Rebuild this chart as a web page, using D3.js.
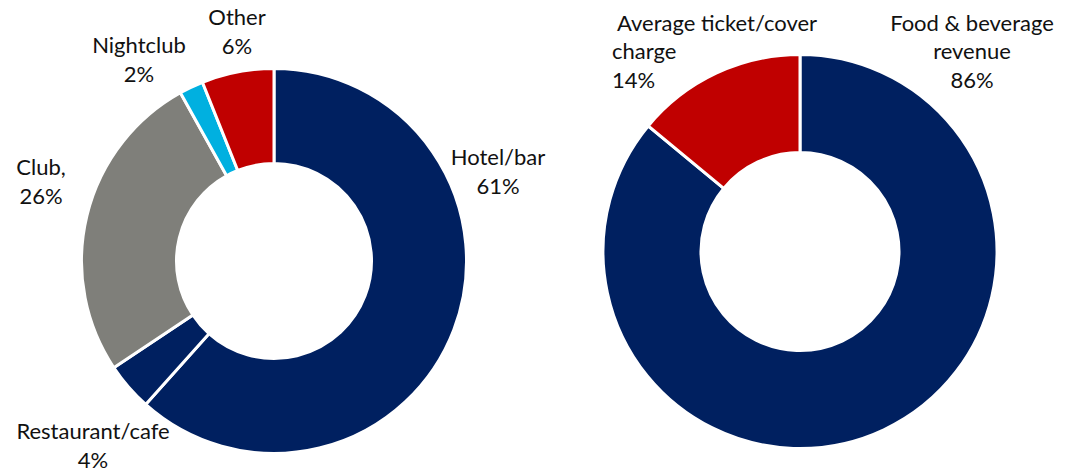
<!DOCTYPE html>
<html>
<head>
<meta charset="utf-8">
<script src="https://cdn.jsdelivr.net/npm/d3@7"></script>
<style>
  html, body { margin: 0; padding: 0; background: #ffffff; }
  svg { display: block; }
  text { font-family: Lato, "Open Sans", sans-serif; font-size: 22px; fill: #111111; }
</style>
</head>
<body>
<svg id="chart" width="1073" height="475"></svg>
<script>
// Venue type split
const venueCategories = ["Hotel/bar", "Restaurant/cafe", "Club", "Nightclub", "Other"];
const venueValues = [61, 4, 26, 2, 6];
const venueLabelLines = [["Hotel/bar"], ["Restaurant/cafe"], ["Club,"], ["Nightclub"], ["Other"]];
const venueColors = ["#002060", "#002060", "#7f7f7a", "#00b0e0", "#c00000"];

// Revenue source split
const revenueCategories = ["Food & beverage revenue", "Average ticket/cover charge"];
const revenueValues = [86, 14];
const revenueLabelLines = [["Food & beverage", "revenue"], ["Average ticket/cover", "charge"]];
const revenueColors = ["#002060", "#c00000"];

const svg = d3.select("#chart");
const lineHeight = 28.5;
const sepWidth = 3;

// Label anchor placement per slice (offset from the donut centre, text anchor)
const venueLabelPlace = [
  { dx: 224, dy: -96, anchor: "middle" },
  { dx: -181, dy: 178, anchor: "middle" },
  { dx: -233, dy: -86, anchor: "middle" },
  { dx: -135, dy: -208, anchor: "middle" },
  { dx: -37, dy: -236, anchor: "middle" }
];
const revenueLabelPlace = [
  { dx: 172, dy: -221, anchor: "middle" },
  { dx: -188, dy: -221, anchor: "start", firstIndent: 5 }
];

function drawDonut(cfg) {
  const g = svg.append("g").attr("transform", `translate(${cfg.cx},${cfg.cy})`);
  const pie = d3.pie().sort(null).value(d => d.value).startAngle(0).endAngle(2 * Math.PI);
  const arc = d3.arc()
    .innerRadius(cfg.inner - sepWidth / 2)
    .outerRadius(cfg.outer + sepWidth / 2);

  const rows = cfg.categories.map((c, i) => ({
    category: c, value: cfg.values[i], color: cfg.colors[i], lines: cfg.labelLines[i]
  }));
  const arcs = pie(rows);

  g.selectAll("path.slice")
    .data(arcs)
    .join("path")
    .attr("class", "slice")
    .attr("d", arc)
    .attr("fill", d => d.data.color)
    .attr("stroke", "#ffffff")
    .attr("stroke-width", sepWidth)
    .attr("stroke-linejoin", "miter");

  const labels = g.selectAll("text.label")
    .data(arcs)
    .join("text")
    .attr("class", "label")
    .attr("text-anchor", (d, i) => cfg.place[i].anchor);

  labels.each(function (d, i) {
    const p = cfg.place[i];
    const t = d3.select(this);
    const lines = d.data.lines.concat([d.data.value + "%"]);
    lines.forEach((ln, k) => {
      t.append("tspan")
        .attr("x", p.dx + (k === 0 && p.firstIndent ? p.firstIndent : 0))
        .attr("y", p.dy + k * lineHeight)
        .text(ln);
    });
  });
}

drawDonut({
  cx: 274, cy: 261, outer: 191, inner: 99,
  categories: venueCategories, values: venueValues, colors: venueColors,
  labelLines: venueLabelLines, place: venueLabelPlace
});

drawDonut({
  cx: 800, cy: 251.5, outer: 195.5, inner: 100.5,
  categories: revenueCategories, values: revenueValues, colors: revenueColors,
  labelLines: revenueLabelLines, place: revenueLabelPlace
});
</script>
</body>
</html>
